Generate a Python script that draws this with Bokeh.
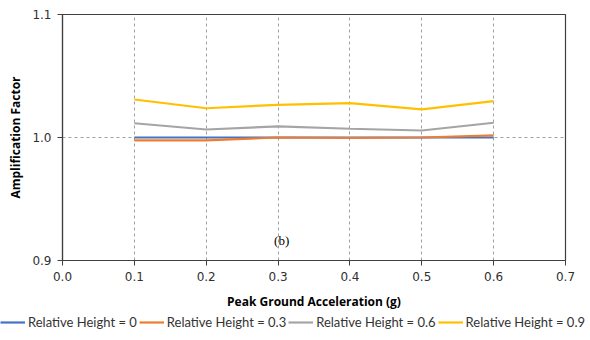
from bokeh.plotting import figure
from bokeh.layouts import column, row
from bokeh.models import (ColumnDataSource, Legend, LegendItem, FixedTicker, Range1d,
                          NumeralTickFormatter, Label)
from bokeh.embed import file_html
from bokeh.resources import INLINE

pga = [0.1, 0.2, 0.3, 0.4, 0.5, 0.6]
rh_0 = [1.000, 1.000, 1.000, 1.000, 1.000, 1.000]
rh_03 = [0.9976, 0.9976, 1.000, 0.9996, 1.000, 1.0018]
rh_06 = [1.0116, 1.0065, 1.0090, 1.0071, 1.0057, 1.0120]
rh_09 = [1.0309, 1.0238, 1.0266, 1.0279, 1.0228, 1.0295]
series_names = ["Relative Height = 0", "Relative Height = 0.3",
                "Relative Height = 0.6", "Relative Height = 0.9"]
colors = ["#4472C4", "#ED7D31", "#A5A5A5", "#FFC000"]
x_ticks = [0.0, 0.1, 0.2, 0.3, 0.4, 0.5, 0.6, 0.7]
y_ticks = [0.9, 1.0, 1.1]

p = figure(width=590, height=314, output_backend="svg", toolbar_location=None,
           x_range=Range1d(0, 0.7), y_range=Range1d(0.9, 1.1),
           min_border_left=62, min_border_right=25, min_border_top=14,
           min_border_bottom=54)
p.outline_line_color = "#404040"
p.outline_line_width = 1.2

sources = []
for name, ys, c in zip(series_names, [rh_0, rh_03, rh_06, rh_09], colors):
    src = ColumnDataSource(dict(x=pga, y=ys))
    sources.append(src)
    p.line("x", "y", source=src, line_color=c, line_width=2.2)

p.xaxis.ticker = FixedTicker(ticks=x_ticks)
p.yaxis.ticker = FixedTicker(ticks=y_ticks)
p.xaxis.formatter = NumeralTickFormatter(format="0.0")
p.yaxis.formatter = NumeralTickFormatter(format="0.0")
for ax in (p.xaxis[0], p.yaxis[0]):
    ax.axis_line_color = "#404040"
    ax.axis_line_width = 1.2
    ax.major_tick_line_color = "#404040"
    ax.major_tick_out = 5
    ax.major_tick_in = 0
    ax.minor_tick_line_color = None
    ax.major_label_text_font = "DejaVu Sans"
    ax.major_label_text_font_size = "12px"
    ax.major_label_text_color = "#303030"
    ax.axis_label_text_font = "Open Sans"
    ax.axis_label_text_font_size = "12px"
    ax.axis_label_text_font_style = "bold"
    ax.axis_label_text_color = "#000000"
p.xaxis.axis_label = "Peak Ground Acceleration (g)"
p.yaxis.axis_label = "Amplification Factor"
p.xaxis.major_label_standoff = 6
p.yaxis.major_label_standoff = 6
p.xaxis.axis_label_standoff = 9
p.yaxis.axis_label_standoff = 5

p.xgrid.grid_line_color = "#A0A0A0"
p.xgrid.grid_line_dash = "3 3"
p.ygrid.grid_line_color = "#A0A0A0"
p.ygrid.grid_line_dash = "3 3"
p.background_fill_color = "white"
p.border_fill_color = "white"

p.add_layout(Label(x=0.305, y=0.916, text="(b)", text_font="Liberation Serif",
                   text_font_size="13px", text_align="center",
                   text_baseline="middle", text_color="#000000"))

# legend strip below the chart (series drawn out of view; only the legend shows)
leg = figure(width=590, height=26, output_backend="svg", toolbar_location=None,
             x_range=Range1d(0, 0.7), y_range=Range1d(2, 3),
             x_axis_location=None, y_axis_location=None,
             min_border_left=0, min_border_right=0, min_border_top=0,
             min_border_bottom=0)
leg.grid.visible = False
leg.outline_line_color = None
items = []
for name, src, c in zip(series_names, sources, colors):
    r = leg.line("x", "y", source=src, line_color=c, line_width=2.2)
    items.append(LegendItem(label=name, renderers=[r]))
legend = Legend(items=items, orientation="horizontal", location="top_left",
                label_text_font="Lato", label_text_font_size="13px",
                label_text_color="#333333", glyph_width=25, glyph_height=10,
                spacing=2, padding=1, margin=0, label_standoff=3,
                border_line_color=None, background_fill_alpha=0)
leg.add_layout(legend, "center")

layout = column(row(p), row(leg), spacing=0)
open("out.html", "w").write(file_html(layout, INLINE))
